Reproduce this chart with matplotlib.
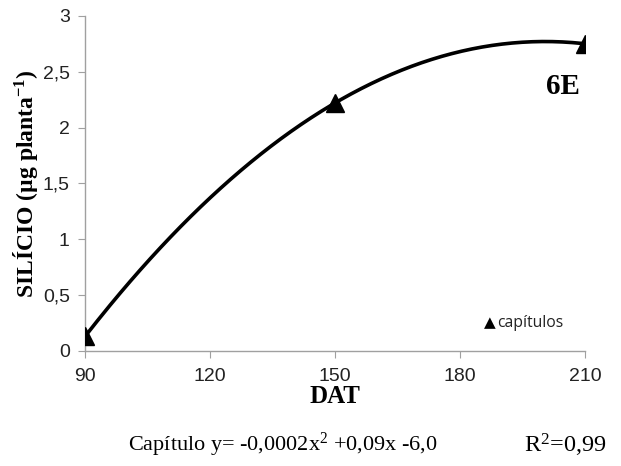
import matplotlib.pyplot as plt
import numpy as np
from matplotlib.ticker import FuncFormatter

# data
dat = [90, 150, 210]
silicio = [0.13, 2.22, 2.75]
x_ticks = [90, 120, 150, 180, 210]
y_ticks = [0, 0.5, 1, 1.5, 2, 2.5, 3]

plt.rcParams['mathtext.default'] = 'regular'

# quadratic trend line through the points
coef = np.polyfit(dat, silicio, 2)
xs = np.linspace(min(dat), max(dat), 200)
ys = np.polyval(coef, xs)

fig = plt.figure(figsize=(6.21, 4.66), dpi=100)
ax = fig.add_axes([0.137, 0.247, 0.805, 0.719])

ax.plot(xs, ys, color='black', lw=2.6, zorder=2)
ax.plot(dat, silicio, linestyle='none', marker='^', color='black', markersize=12.5, zorder=3)

ax.set_xlim(90, 210)
ax.set_ylim(0, 3)
ax.set_xticks(x_ticks)
ax.set_yticks(y_ticks)
ax.yaxis.set_major_formatter(FuncFormatter(lambda v, p: ('%g' % v).replace('.', ',')))

for s in ['top', 'right']:
    ax.spines[s].set_visible(False)
for s in ['left', 'bottom']:
    ax.spines[s].set_color('#a0a0a0')
    ax.spines[s].set_linewidth(1)
ax.tick_params(direction='out', length=5, color='#a0a0a0', labelsize=14,
               labelcolor='#222222', pad=6)
ax.tick_params(axis='x', pad=7)
for lbl in ax.get_xticklabels() + ax.get_yticklabels():
    lbl.set_family('Liberation Sans')

ax.set_xlabel('DAT', family='Liberation Serif', fontweight='bold', fontsize=18, labelpad=0)
ax.set_ylabel('SILÍCIO (µg planta$^{-1}$)', family='Liberation Serif', fontweight='bold',
              fontsize=17, labelpad=2)

ax.text(204.7, 2.37, '6E', family='Liberation Serif', fontweight='bold', fontsize=21,
        ha='center', va='center')

ax.text(0.797, 0.084, '▲', transform=ax.transAxes, fontsize=11, ha='left', va='center',
        family='DejaVu Sans')
ax.text(0.824, 0.084, 'capítulos', transform=ax.transAxes, fontsize=11.3, ha='left',
        va='center', family='Open Sans', color='#222222')

fig.text(0.206, 0.045, 'Capítulo y= -0,0002x$^2$ +0,09x -6,0', family='Liberation Serif',
         fontsize=16, ha='left', va='center')
fig.text(0.843, 0.045, 'R$^2$=0,99', family='Liberation Serif', fontsize=17.5,
         ha='left', va='center')

fig.savefig('out.png', dpi=100)
